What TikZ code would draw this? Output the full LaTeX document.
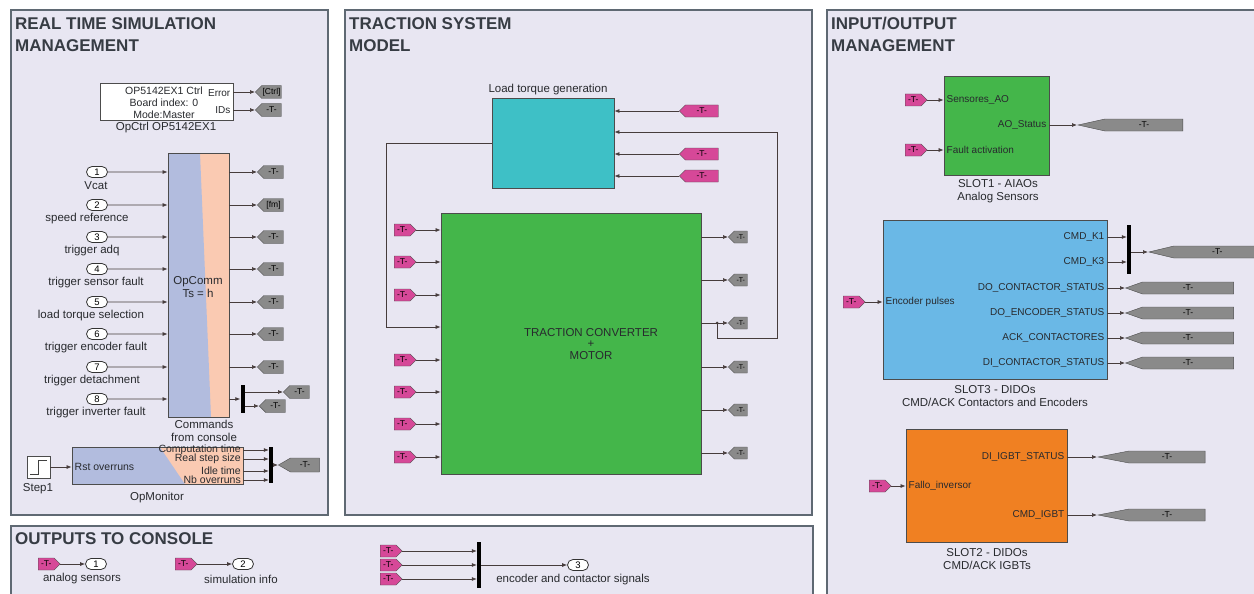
\documentclass[tikz,border=0pt]{standalone}
\usepackage{fontspec}
\setmainfont{Liberation Sans}
\usepackage{xcolor}
\usetikzlibrary{arrows.meta,shapes.symbols,shapes.misc}

\definecolor{panelbg}{RGB}{232,230,242}
\definecolor{panelline}{RGB}{95,105,115}
\definecolor{titleink}{RGB}{55,60,68}
\definecolor{tagpink}{RGB}{214,72,152}
\definecolor{taggray}{RGB}{138,138,138}
\definecolor{convgreen}{RGB}{68,182,74}
\definecolor{loadcyan}{RGB}{62,192,198}
\definecolor{slotblue}{RGB}{106,184,230}
\definecolor{slotorange}{RGB}{240,128,34}
\definecolor{opblue}{RGB}{178,188,222}
\definecolor{oppeach}{RGB}{250,202,178}
\definecolor{inktext}{RGB}{40,42,46}
\definecolor{wire}{RGB}{70,60,60}

\tikzset{
  panel/.style={draw=panelline, line width=1.2pt, fill=panelbg},
  paneltitle/.style={anchor=north west, align=left, inner sep=0pt, text=titleink,
    font=\fontsize{17}{22}\selectfont\bfseries},
  block/.style={draw=black!70, line width=0.8pt, inner sep=0pt},
  lbl/.style={font=\fontsize{11.5}{13}\selectfont, text=inktext, inner sep=1pt, align=center},
  portlbl/.style={font=\fontsize{10}{12}\selectfont, text=inktext, inner sep=1.5pt},
  iport/.style={rounded rectangle, draw=black!80, line width=0.8pt, fill=white, minimum width=21pt,
    minimum height=11pt, inner sep=0pt, font=\fontsize{9.5}{9.5}\selectfont},
  pinktag/.style={signal, draw=black!70, fill=tagpink, minimum width=22pt, anchor=west,
    minimum height=12pt, inner sep=0pt, font=\fontsize{8.5}{8.5}\selectfont},
  fromtag/.style={pinktag, signal to=east},
  fromtagl/.style={pinktag, signal to=west},
  gototag/.style={signal, signal to=west, draw=black!70, fill=taggray, minimum width=26pt, anchor=west,
    minimum height=13pt, inner sep=0pt, font=\fontsize{8.5}{8.5}\selectfont},
  longtag/.style={gototag, signal pointer angle=#1, minimum height=12pt},
  muxbar/.style={fill=black, minimum width=4pt, inner sep=0pt},
  sig/.style={draw=wire, line width=0.7pt, -{Latex[length=5pt,width=4pt]}},
}

\begin{document}
\begin{tikzpicture}[x=1pt, y=-1pt]
\useasboundingbox (0,0) rectangle (1254,594);
\clip (0,0) rectangle (1254,594);

\draw[panel] (11,10) rectangle (328,515);
\draw[panel] (345,10) rectangle (812,515);
\draw[panel] (11,526) rectangle (813,620);
\draw[panel] (827,10) rectangle (1280,620);
\node[paneltitle] (t1) at (15,17) {REAL TIME SIMULATION\\MANAGEMENT};
\node[paneltitle] (t2) at (349,17) {TRACTION SYSTEM\\MODEL};
\node[paneltitle] (t3) at (15,532) {OUTPUTS TO CONSOLE};
\node[paneltitle] (t4) at (831,17) {INPUT/OUTPUT\\MANAGEMENT};

% real time simulation management
\node[block, fill=white, minimum width=133pt, minimum height=37pt] (ctrl) at (166.5,101.5) {};
\node[lbl, font=\fontsize{10.5}{12}\selectfont] (ctrltxt) at (164,103) {OP5142EX1 Ctrl\\Board index: 0\\Mode:Master};
\node[portlbl, anchor=east] (err) at (232,93) {Error};
\node[portlbl, anchor=east] (ids) at (232,110) {IDs};
\node[lbl] (ctrlname) at (166,128) {OpCtrl OP5142EX1};
\node[gototag] (gctrl) at (255,92) {[Ctrl]};
\node[gototag] (gids) at (255,110) {-T-};
\draw[sig] (ctrl.east |- gctrl) -- (gctrl.west);
\draw[sig] (ctrl.east |- gids) -- (gids.west);

\node[block, fill=oppeach, minimum width=61pt, minimum height=264pt,
  path picture={\fill[opblue] (path picture bounding box.south west) -- (path picture bounding box.north west)
    -- ([xshift=32pt]path picture bounding box.north west) -- ([xshift=43pt]path picture bounding box.south west) -- cycle;}] (comm) at (198.5,285) {};
\node[lbl] (commtxt) at (198,287) {OpComm\\Ts = h};
\node[lbl] (commname) at (204,431) {Commands\\from console};

\node[iport] (in1) at (97,172) {1};
\node[iport] (in2) at (97,205) {2};
\node[iport] (in3) at (97,237) {3};
\node[iport] (in4) at (97,269) {4};
\node[iport] (in5) at (97,302) {5};
\node[iport] (in6) at (97,334) {6};
\node[iport] (in7) at (97,367) {7};
\node[iport] (in8) at (97,399) {8};
\node[lbl] (inl1) at (96,186) {Vcat};
\node[lbl] (inl2) at (87,219) {speed reference};
\node[lbl] (inl3) at (92,251) {trigger adq};
\node[lbl] (inl4) at (96,283) {trigger sensor fault};
\node[lbl] (inl5) at (91,316) {load torque selection};
\node[lbl] (inl6) at (96,348) {trigger encoder fault};
\node[lbl] (inl7) at (92,381) {trigger detachment};
\node[lbl] (inl8) at (96,413) {trigger inverter fault};
\draw[sig] (in1) -- (in1 -| comm.west);
\draw[sig] (in2) -- (in2 -| comm.west);
\draw[sig] (in3) -- (in3 -| comm.west);
\draw[sig] (in4) -- (in4 -| comm.west);
\draw[sig] (in5) -- (in5 -| comm.west);
\draw[sig] (in6) -- (in6 -| comm.west);
\draw[sig] (in7) -- (in7 -| comm.west);
\draw[sig] (in8) -- (in8 -| comm.west);

\node[gototag] (c1) at (257,172) {-T-};
\node[gototag] (c2) at (257,205) {[fm]};
\node[gototag] (c3) at (257,237) {-T-};
\node[gototag] (c4) at (257,269) {-T-};
\node[gototag] (c5) at (257,302) {-T-};
\node[gototag] (c6) at (257,334) {-T-};
\node[gototag] (c7) at (257,367) {-T-};
\node[muxbar, minimum height=28pt] (dmx) at (242.5,399) {};
\node[gototag] (c8a) at (283,392) {-T-};
\node[gototag] (c8b) at (259,406) {-T-};
\draw[sig] (comm.east |- c1) -- (c1.west);
\draw[sig] (comm.east |- c2) -- (c2.west);
\draw[sig] (comm.east |- c3) -- (c3.west);
\draw[sig] (comm.east |- c4) -- (c4.west);
\draw[sig] (comm.east |- c5) -- (c5.west);
\draw[sig] (comm.east |- c6) -- (c6.west);
\draw[sig] (comm.east |- c7) -- (c7.west);
\draw[sig] (comm.east |- dmx) -- (dmx.west);
\draw[sig] (dmx.east |- c8a) -- (c8a.west);
\draw[sig] (dmx.east |- c8b) -- (c8b.west);

\node[block, fill=white, minimum width=23pt, minimum height=22pt,
  path picture={\draw[black!75, line width=0.8pt] ([xshift=3pt, yshift=4pt]path picture bounding box.south west)
    -- ([yshift=4pt]path picture bounding box.south) -- ([yshift=-4pt]path picture bounding box.north)
    -- ([xshift=-3pt, yshift=-4pt]path picture bounding box.north east);}] (step) at (38.5,467) {};
\node[lbl] (stepname) at (38,489) {Step1};
\node[block, fill=opblue, minimum width=171pt, minimum height=37pt,
  path picture={\fill[oppeach] ([xshift=88pt]path picture bounding box.north west) -- (path picture bounding box.north east)
    -- (path picture bounding box.south east) -- ([xshift=113pt]path picture bounding box.south west) -- cycle;}] (mon) at (157.5,465.5) {};
\node[lbl] (monname) at (157,498) {OpMonitor};
\node[portlbl, anchor=west, font=\fontsize{10.5}{12}\selectfont] (rst) at (73,467) {Rst overruns};
\node[portlbl, anchor=east, inner sep=1pt, font=\fontsize{10.5}{12}\selectfont] (mo1) at (242,450) {Computation time};
\node[portlbl, anchor=east, inner sep=1pt, font=\fontsize{10.5}{12}\selectfont] (mo2) at (242,459) {Real step size};
\node[portlbl, anchor=east, inner sep=1pt, font=\fontsize{10.5}{12}\selectfont] (mo3) at (242,471) {Idle time};
\node[portlbl, anchor=east, inner sep=1pt, font=\fontsize{10.5}{12}\selectfont] (mo4) at (242,480) {Nb overruns};
\node[muxbar, minimum height=36pt] (mmx) at (271,465) {};
\node[gototag, minimum width=41pt, minimum height=14pt, signal pointer angle=60] (gmon) at (278,465) {-T-};
\draw[sig] (step) -- (step -| mon.west);
\draw[sig] (mon.east |- mo1) -- (mo1 -| mmx.west);
\draw[sig] (mon.east |- mo2) -- (mo2 -| mmx.west);
\draw[sig] (mon.east |- mo3) -- (mo3 -| mmx.west);
\draw[sig] (mon.east |- mo4) -- (mo4 -| mmx.west);
\draw[sig] (mmx.east |- gmon) -- (gmon.west);

% outputs to console
\node[fromtag] (o1src) at (38,564) {-T-};
\node[iport] (out1) at (96,564) {1};
\node[lbl] (outl1) at (82,579) {analog sensors};
\node[fromtag] (o2src) at (175,564) {-T-};
\node[iport] (out2) at (243,564) {2};
\node[lbl] (outl2) at (241,579) {simulation info};
\node[fromtag] (o3a) at (380,551) {-T-};
\node[fromtag] (o3b) at (380,565) {-T-};
\node[fromtag] (o3c) at (380,579) {-T-};
\node[muxbar, minimum height=46pt] (omx) at (479,565) {};
\node[iport] (out3) at (578,565) {3};
\node[lbl] (outl3) at (573,580) {encoder and contactor signals};
\draw[sig] (o1src.east) -- (out1);
\draw[sig] (o2src.east) -- (out2);
\draw[sig] (o3a.east) -- (o3a -| omx.west);
\draw[sig] (o3b.east) -- (o3b -| omx.west);
\draw[sig] (o3c.east) -- (o3c -| omx.west);
\draw[sig] (omx.east |- out3) -- (out3);

% traction system model
\node[lbl] (ltname) at (548,90) {Load torque generation};
\node[block, fill=loadcyan, minimum width=122pt, minimum height=90pt] (lt) at (553,143) {};
\node[fromtagl, minimum width=39pt] (lt1) at (679,111) {-T-};
\node[fromtagl, minimum width=39pt] (lt3) at (679,154) {-T-};
\node[fromtagl, minimum width=39pt] (lt4) at (679,176) {-T-};
\draw[sig] (lt1.west) -- (lt1 -| lt.east);
\draw[sig] (lt3.west) -- (lt3 -| lt.east);
\draw[sig] (lt4.west) -- (lt4 -| lt.east);

\node[block, fill=convgreen, minimum width=260pt, minimum height=261pt] (conv) at (571,343.5) {};
\node[lbl, font=\fontsize{11.5}{11.5}\selectfont] (convtxt) at (591,344) {TRACTION CONVERTER\\+\\MOTOR};
\node[fromtag] (cv1) at (394,230) {-T-};
\node[fromtag] (cv2) at (394,262) {-T-};
\node[fromtag] (cv3) at (394,295) {-T-};
\node[fromtag] (cv5) at (394,360) {-T-};
\node[fromtag] (cv6) at (394,392) {-T-};
\node[fromtag] (cv7) at (394,424) {-T-};
\node[fromtag] (cv8) at (394,457) {-T-};
\draw[sig] (cv1.east) -- (cv1 -| conv.west);
\draw[sig] (cv2.east) -- (cv2 -| conv.west);
\draw[sig] (cv3.east) -- (cv3 -| conv.west);
\draw[sig] (cv5.east) -- (cv5 -| conv.west);
\draw[sig] (cv6.east) -- (cv6 -| conv.west);
\draw[sig] (cv7.east) -- (cv7 -| conv.west);
\draw[sig] (cv8.east) -- (cv8 -| conv.west);

\node[gototag, minimum width=19pt, minimum height=12pt, font=\fontsize{7}{7}\selectfont] (g1) at (728,237) {-T-};
\node[gototag, minimum width=19pt, minimum height=12pt, font=\fontsize{7}{7}\selectfont] (g2) at (728,280) {-T-};
\node[gototag, minimum width=19pt, minimum height=12pt, font=\fontsize{7}{7}\selectfont] (g3) at (728,323) {-T-};
\node[gototag, minimum width=19pt, minimum height=12pt, font=\fontsize{7}{7}\selectfont] (g4) at (728,367) {-T-};
\node[gototag, minimum width=19pt, minimum height=12pt, font=\fontsize{7}{7}\selectfont] (g5) at (728,410) {-T-};
\node[gototag, minimum width=19pt, minimum height=12pt, font=\fontsize{7}{7}\selectfont] (g6) at (728,453) {-T-};
\draw[sig] (conv.east |- g1) -- (g1.west);
\draw[sig] (conv.east |- g2) -- (g2.west);
\draw[sig] (conv.east |- g3) -- (g3.west);
\draw[sig] (conv.east |- g4) -- (g4.west);
\draw[sig] (conv.east |- g5) -- (g5.west);
\draw[sig] (conv.east |- g6) -- (g6.west);

\coordinate (fb) at (717,323);
\coordinate (fbc) at (777,338);
\coordinate (lt2) at (lt.east |- 0,132);
\draw[sig] (fb) |- (fbc) |- (lt2);
\fill[wire] (fb) circle (1.5);
\coordinate (ltc) at (386,143);
\draw[sig] (lt.west) -- (ltc) |- (conv.west |- 0,327);

% input/output management
\node[block, fill=convgreen, minimum width=105pt, minimum height=99pt] (s1) at (996.5,125.5) {};
\node[portlbl, anchor=west] (s1a) at (945,100) {Sensores\_AO};
\node[portlbl, anchor=west] (s1b) at (945,150) {Fault activation};
\node[portlbl, anchor=east] (s1c) at (1048,125) {AO\_Status};
\node[lbl] (s1name) at (998,191) {SLOT1 - AIAOs\\Analog Sensors};
\node[fromtag] (f1a) at (905,100) {-T-};
\node[fromtag] (f1b) at (905,150) {-T-};
\node[longtag=25, minimum width=105pt] (s1g) at (1077,125) {-T-};
\draw[sig] (f1a.east) -- (f1a -| s1.west);
\draw[sig] (f1b.east) -- (f1b -| s1.west);
\draw[sig] (s1.east |- s1g) -- (s1g.west);

\node[block, fill=slotblue, minimum width=224pt, minimum height=159pt] (s3) at (995,299.5) {};
\node[portlbl, anchor=west] (s3in) at (884,302) {Encoder pulses};
\node[portlbl, anchor=east] (k1) at (1106,237) {CMD\_K1};
\node[portlbl, anchor=east] (k3) at (1106,262) {CMD\_K3};
\node[portlbl, anchor=east] (dcs) at (1106,288) {DO\_CONTACTOR\_STATUS};
\node[portlbl, anchor=east] (des) at (1106,313) {DO\_ENCODER\_STATUS};
\node[portlbl, anchor=east] (ack) at (1106,338) {ACK\_CONTACTORES};
\node[portlbl, anchor=east] (dis) at (1106,363) {DI\_CONTACTOR\_STATUS};
\node[lbl] (s3name) at (995,396) {SLOT3 - DIDOs\\CMD/ACK Contactors and Encoders};
\node[fromtag] (f3) at (843,302) {-T-};
\node[muxbar, minimum height=49pt] (kmx) at (1129,249.5) {};
\node[longtag=27, minimum width=112pt] (gk) at (1148,252) {-T-};
\node[longtag=39, minimum width=108pt] (gdcs) at (1125,288) {-T-};
\node[longtag=39, minimum width=108pt] (gdes) at (1125,313) {-T-};
\node[longtag=39, minimum width=108pt] (gack) at (1125,338) {-T-};
\node[longtag=39, minimum width=108pt] (gdis) at (1125,363) {-T-};
\draw[sig] (f3.east) -- (f3 -| s3.west);
\draw[sig] (s3.east |- k1) -- (k1 -| kmx.west);
\draw[sig] (s3.east |- k3) -- (k3 -| kmx.west);
\draw[sig] (kmx.east |- gk) -- (gk.west);
\draw[sig] (s3.east |- gdcs) -- (gdcs.west);
\draw[sig] (s3.east |- gdes) -- (gdes.west);
\draw[sig] (s3.east |- gack) -- (gack.west);
\draw[sig] (s3.east |- gdis) -- (gdis.west);

\node[block, fill=slotorange, minimum width=161pt, minimum height=113pt] (s2) at (986.5,485.5) {};
\node[portlbl, anchor=west] (s2in) at (907,486) {Fallo\_inversor};
\node[portlbl, anchor=east] (igs) at (1066,457) {DI\_IGBT\_STATUS};
\node[portlbl, anchor=east] (igc) at (1066,515) {CMD\_IGBT};
\node[lbl] (s2name) at (987,559) {SLOT2 - DIDOs\\CMD/ACK IGBTs};
\node[fromtag] (f2) at (869,486) {-T-};
\node[longtag=22, minimum width=107pt] (gigs) at (1097,457) {-T-};
\node[longtag=22, minimum width=107pt] (gigc) at (1097,515) {-T-};
\draw[sig] (f2.east) -- (f2 -| s2.west);
\draw[sig] (s2.east |- gigs) -- (gigs.west);
\draw[sig] (s2.east |- gigc) -- (gigc.west);
\end{tikzpicture}
\end{document}
